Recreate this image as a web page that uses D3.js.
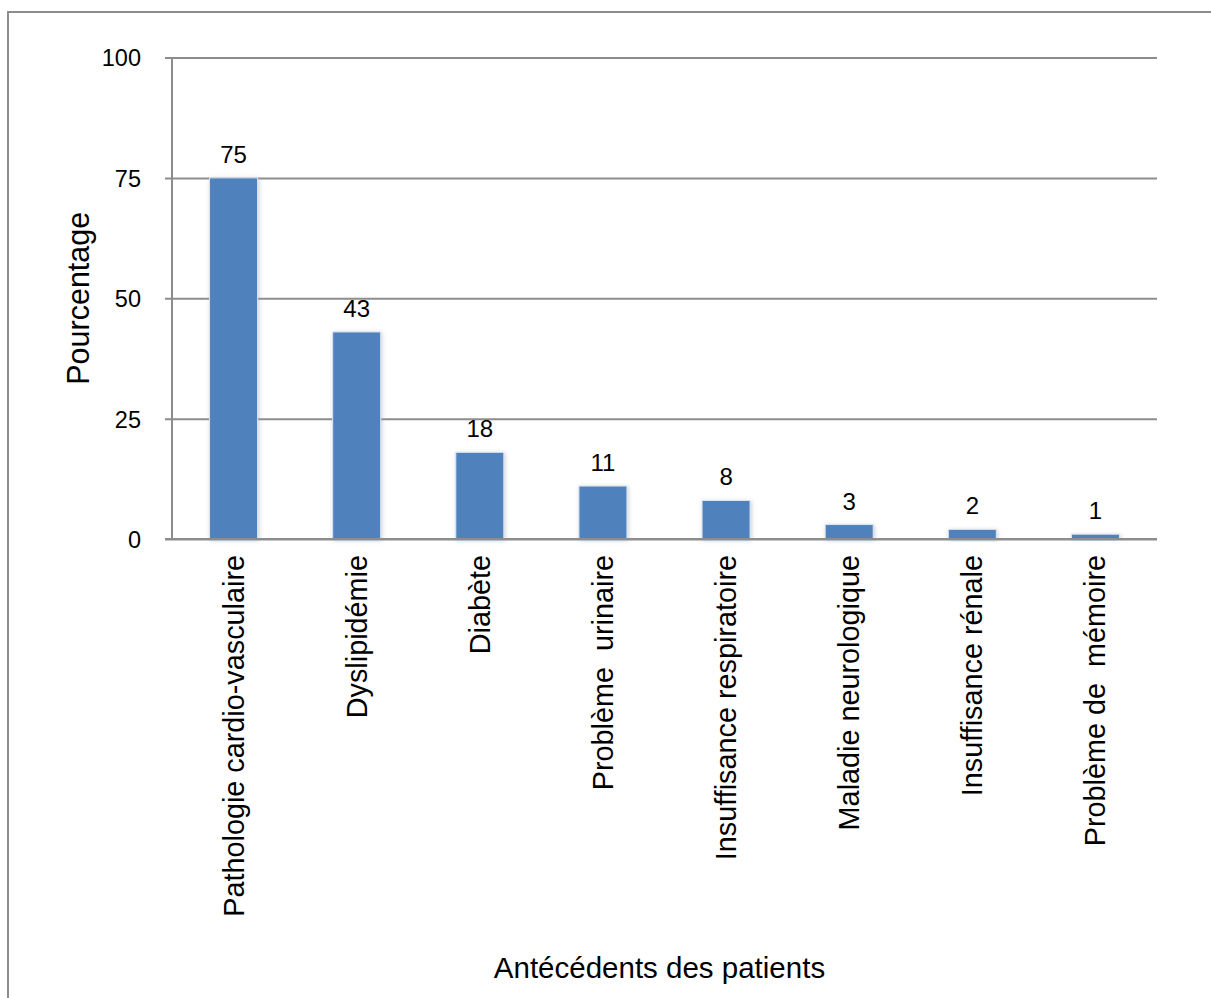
<!DOCTYPE html>
<html>
<head>
<meta charset="utf-8">
<script src="https://cdn.jsdelivr.net/npm/d3@7"></script>
<style>
  html, body { margin: 0; padding: 0; background: #fff; }
  svg text { font-family: "Liberation Sans", Arial, sans-serif; fill: #000; white-space: pre; }
</style>
</head>
<body>
<svg id="chart" width="1211" height="998"></svg>
<script>
// Medical history of the patients (percent)
const categories = [
  "Pathologie cardio-vasculaire",
  "Dyslipidémie",
  "Diabète",
  "Problème  urinaire",
  "Insuffisance respiratoire",
  "Maladie neurologique",
  "Insuffisance rénale",
  "Problème de  mémoire"
];
const percentages = [75, 43, 18, 11, 8, 3, 2, 1];
const yTicks = [0, 25, 50, 75, 100];
const yTitle = "Pourcentage";
const xTitle = "Antécédents des patients";

const svg = d3.select("#chart");
const W = 1211, H = 998;
const plot = { left: 172, right: 1157, top: 57.5, bottom: 539 };
const gridColor = "#8d8d8d";

// outer frame (open at right and bottom, clipped by the canvas)
svg.append("rect")
  .attr("x", 8).attr("y", 12)
  .attr("width", W + 20).attr("height", H + 20)
  .attr("fill", "none").attr("stroke", gridColor).attr("stroke-width", 2);

const defs = svg.append("defs");
const glow = defs.append("filter").attr("id", "barGlow")
  .attr("x", "-30%").attr("y", "-30%").attr("width", "160%").attr("height", "160%");
glow.append("feDropShadow")
  .attr("dx", 1).attr("dy", 1).attr("stdDeviation", 2)
  .attr("flood-color", "#9aa7b8").attr("flood-opacity", 0.55);

const x = d3.scaleBand()
  .domain(categories)
  .range([plot.left, plot.right])
  .paddingInner(0.61)
  .paddingOuter(0.305);

const y = d3.scaleLinear()
  .domain([0, 100])
  .range([plot.bottom, plot.top]);

// horizontal gridlines with left tick marks
const yAxis = d3.axisLeft(y)
  .tickValues(yTicks)
  .tickSize(-(plot.right - plot.left))
  .tickSizeOuter(0)
  .tickPadding(31)
  .tickFormat(d3.format("d"));

const gy = svg.append("g")
  .attr("transform", `translate(${plot.left},0)`)
  .call(yAxis);
gy.select(".domain").remove();
gy.selectAll(".tick line")
  .attr("x1", -7)
  .attr("stroke", gridColor).attr("stroke-width", 2);
gy.selectAll(".tick text")
  .attr("font-size", 23.5)
  .attr("dy", "0.36em")
  .style("font-family", "'Liberation Sans', Arial, sans-serif");

// vertical axis line
svg.append("line")
  .attr("x1", plot.left).attr("x2", plot.left)
  .attr("y1", plot.top).attr("y2", plot.bottom)
  .attr("stroke", gridColor).attr("stroke-width", 2);

// bars
svg.append("g").selectAll("rect")
  .data(categories)
  .join("rect")
  .attr("x", d => x(d))
  .attr("width", x.bandwidth())
  .attr("y", (d, i) => y(percentages[i]))
  .attr("height", (d, i) => y(0) - y(percentages[i]))
  .attr("fill", "#4f81bd")
  .attr("stroke", "#dfe6ef")
  .attr("stroke-width", 1)
  .attr("filter", "url(#barGlow)");

// redraw baseline over bars
svg.append("line")
  .attr("x1", plot.left - 7).attr("x2", plot.right)
  .attr("y1", y(0)).attr("y2", y(0))
  .attr("stroke", gridColor).attr("stroke-width", 2);

// value labels
svg.append("g").selectAll("text")
  .data(categories)
  .join("text")
  .attr("x", d => x(d) + x.bandwidth() / 2)
  .attr("y", (d, i) => y(percentages[i]) - 15)
  .attr("text-anchor", "middle")
  .attr("font-size", 24)
  .text((d, i) => percentages[i]);

// category labels, rotated
svg.append("g").selectAll("text")
  .data(categories)
  .join("text")
  .attr("transform", d => `translate(${x(d) + x.bandwidth() / 2 + 10},${plot.bottom + 16}) rotate(-90)`)
  .attr("text-anchor", "end")
  .attr("font-size", 28.8)
  .text(d => d);

// axis titles
svg.append("text")
  .attr("transform", `translate(89,${(plot.top + plot.bottom) / 2}) rotate(-90)`)
  .attr("text-anchor", "middle")
  .attr("font-size", 30.5)
  .text(yTitle);

svg.append("text")
  .attr("x", (plot.left + plot.right) / 2 - 5)
  .attr("y", 978)
  .attr("text-anchor", "middle")
  .attr("font-size", 29.5)
  .text(xTitle);
</script>
</body>
</html>
